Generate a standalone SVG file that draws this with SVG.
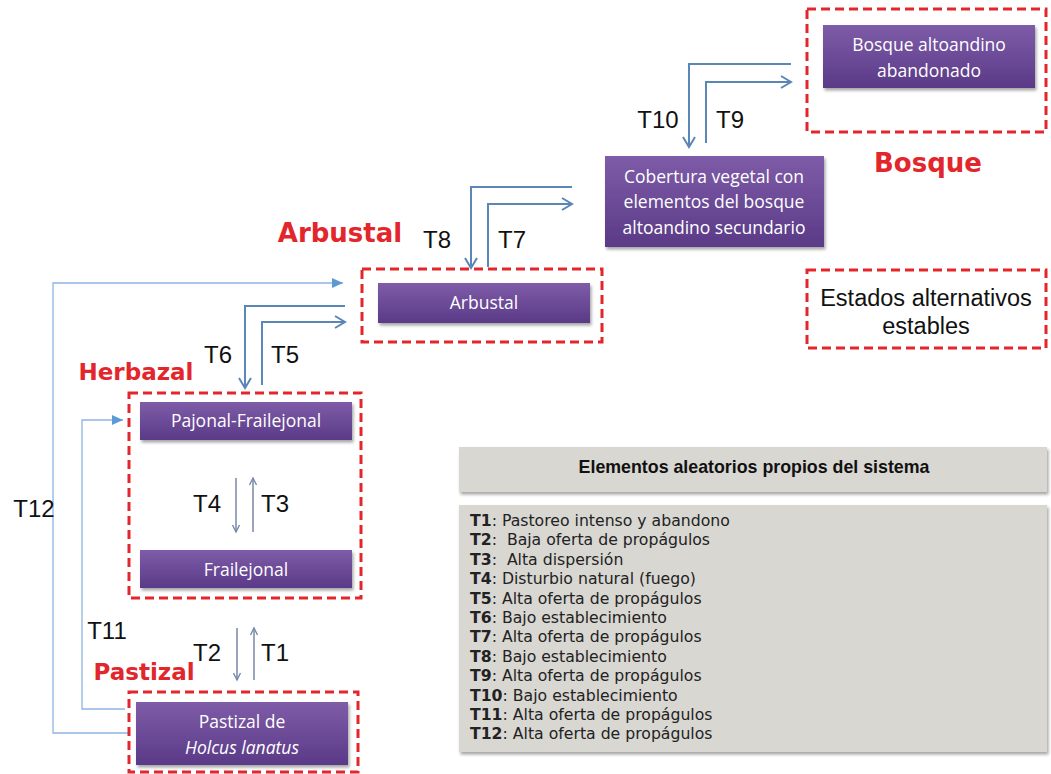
<svg xmlns="http://www.w3.org/2000/svg" width="1051" height="774" viewBox="0 0 1051 774">
<defs>
<linearGradient id="pg" x1="0" y1="0" x2="0" y2="1">
<stop offset="0" stop-color="#7e5ca8"/>
<stop offset="1" stop-color="#5a3a87"/>
</linearGradient>
<filter id="sh" x="-10%" y="-20%" width="125%" height="150%">
<feDropShadow dx="1.5" dy="2.5" stdDeviation="1.5" flood-color="#000" flood-opacity="0.35"/>
</filter>
<marker id="chev" markerUnits="userSpaceOnUse" markerWidth="14" markerHeight="16" refX="11" refY="7" orient="auto">
<path d="M1,1 L11,7 L1,13" fill="none" stroke="#5b86b8" stroke-width="2"/>
</marker>
<marker id="tri" markerUnits="userSpaceOnUse" markerWidth="12" markerHeight="10" refX="11" refY="5" orient="auto">
<path d="M0,0 L11,5 L0,10 Z" fill="#5b9bd5"/>
</marker>
<marker id="small" markerUnits="userSpaceOnUse" markerWidth="10" markerHeight="10" refX="8" refY="4.5" orient="auto">
<path d="M1,1 L8,4.5 L1,8" fill="none" stroke="#7788a8" stroke-width="1.4"/>
</marker>
</defs>
<style>
.box{fill:url(#pg);filter:url(#sh)}
.bt{font-family:"Open Sans","DejaVu Sans",sans-serif;font-size:17.5px;fill:#fff;text-anchor:middle}
.dash{fill:none;stroke:#e3262b;stroke-width:3;stroke-dasharray:9 5}
.red{font-family:"DejaVu Sans",sans-serif;font-weight:bold;fill:#e3262b;text-anchor:middle}
.lbl{font-family:"Liberation Sans",Arial,sans-serif;font-size:24px;fill:#111;text-anchor:middle}
.big{fill:none;stroke:#5b86b8;stroke-width:2;marker-end:url(#chev)}
.thin{fill:none;stroke:#8eb4e3;stroke-width:1.3;marker-end:url(#tri)}
.sm{fill:none;stroke:#7788a8;stroke-width:1.5;marker-end:url(#small)}
.gray{fill:#d9d7d2;filter:url(#sh)}
.leg{font-family:"DejaVu Sans",sans-serif;font-size:15.7px;fill:#222;white-space:pre}
</style>
<rect width="1051" height="774" fill="#fff"/>

<g id="connectors">
<path class="big" d="M791,64 H689 V147"/>
<path class="big" d="M706,143 V82 H791"/>
<path class="big" d="M572,187 H471 V268"/>
<path class="big" d="M488,267 V204 H572"/>
<path class="big" d="M345,306 H245 V388"/>
<path class="big" d="M262,385 V322 H345"/>
<path class="thin" d="M130,733 H53 V283 H343"/>
<path class="thin" d="M125,709 H82 V420 H123"/>
<path class="sm" d="M236,478 V532"/>
<path class="sm" d="M253,532 V478"/>
<path class="sm" d="M237,628 V680"/>
<path class="sm" d="M254,680 V628"/>
<text class="lbl" x="658" y="128">T10</text>
<text class="lbl" x="730" y="128">T9</text>
<text class="lbl" x="437" y="248">T8</text>
<text class="lbl" x="512" y="248">T7</text>
<text class="lbl" x="218" y="363">T6</text>
<text class="lbl" x="285" y="363">T5</text>
<text class="lbl" x="207" y="512">T4</text>
<text class="lbl" x="275" y="512">T3</text>
<text class="lbl" x="34" y="517">T12</text>
<text class="lbl" x="107" y="639">T11</text>
<text class="lbl" x="207" y="661">T2</text>
<text class="lbl" x="275" y="661">T1</text>
</g>

<g id="bosque">
<rect class="dash" x="807" y="9" width="239" height="123"/>
<rect class="box" x="823" y="25" width="212" height="63"/>
<text class="bt" x="929" y="51">Bosque altoandino</text>
<text class="bt" x="929" y="77">abandonado</text>
<text class="red" x="928" y="172" font-size="26">Bosque</text>
</g>

<g id="cobertura">
<rect class="box" x="605" y="156" width="219" height="91"/>
<text class="bt" x="714" y="183">Cobertura vegetal con</text>
<text class="bt" x="714" y="208">elementos del bosque</text>
<text class="bt" x="714" y="234">altoandino secundario</text>
</g>

<g id="arbustal">
<rect class="dash" x="362" y="269" width="240" height="73"/>
<rect class="box" x="378" y="283" width="212" height="40"/>
<text class="bt" x="484" y="309">Arbustal</text>
<text class="red" x="340" y="242" font-size="26">Arbustal</text>
</g>

<g id="estados">
<rect class="dash" x="807" y="270" width="239" height="78"/>
<text x="926" y="306" font-family="Liberation Sans, Arial, sans-serif" font-size="23.5" fill="#111" text-anchor="middle">Estados alternativos</text>
<text x="926" y="334" font-family="Liberation Sans, Arial, sans-serif" font-size="23.5" fill="#111" text-anchor="middle">estables</text>
</g>

<g id="herbazal">
<rect class="dash" x="129" y="393" width="232" height="205"/>
<text class="red" x="136" y="380" font-size="23">Herbazal</text>
</g>

<g id="pajonal">
<rect class="box" x="140" y="402" width="212" height="38"/>
<text class="bt" x="246" y="427">Pajonal-Frailejonal</text>
</g>

<g id="frailejonal">
<rect class="box" x="140" y="550" width="212" height="38"/>
<text class="bt" x="246" y="576">Frailejonal</text>
</g>

<g id="pastizal">
<rect class="dash" x="129" y="692" width="229" height="80"/>
<rect class="box" x="136" y="702" width="212" height="63"/>
<text class="bt" x="242" y="728">Pastizal de</text>
<text class="bt" x="242" y="754" font-style="italic">Holcus lanatus</text>
<text class="red" x="144" y="680" font-size="23">Pastizal</text>
</g>

<g id="tabla">
<rect class="gray" x="459" y="447" width="588" height="45"/>
<text x="754" y="473" font-family="Liberation Sans, Arial, sans-serif" font-size="17.8" font-weight="bold" fill="#111" text-anchor="middle">Elementos aleatorios propios del sistema</text>
<rect class="gray" x="459" y="505" width="588" height="247"/>
<text class="leg" x="470" y="526"><tspan font-weight="bold">T1</tspan>: Pastoreo intenso y abandono</text>
<text class="leg" x="470" y="545.4"><tspan font-weight="bold">T2</tspan>:  Baja oferta de propágulos</text>
<text class="leg" x="470" y="564.8"><tspan font-weight="bold">T3</tspan>:  Alta dispersión</text>
<text class="leg" x="470" y="584.2"><tspan font-weight="bold">T4</tspan>: Disturbio natural (fuego)</text>
<text class="leg" x="470" y="603.6"><tspan font-weight="bold">T5</tspan>: Alta oferta de propágulos</text>
<text class="leg" x="470" y="623"><tspan font-weight="bold">T6</tspan>: Bajo establecimiento</text>
<text class="leg" x="470" y="642.4"><tspan font-weight="bold">T7</tspan>: Alta oferta de propágulos</text>
<text class="leg" x="470" y="661.8"><tspan font-weight="bold">T8</tspan>: Bajo establecimiento</text>
<text class="leg" x="470" y="681.2"><tspan font-weight="bold">T9</tspan>: Alta oferta de propágulos</text>
<text class="leg" x="470" y="700.6"><tspan font-weight="bold">T10</tspan>: Bajo establecimiento</text>
<text class="leg" x="470" y="720"><tspan font-weight="bold">T11</tspan>: Alta oferta de propágulos</text>
<text class="leg" x="470" y="739.4"><tspan font-weight="bold">T12</tspan>: Alta oferta de propágulos</text>
</g>
</svg>
